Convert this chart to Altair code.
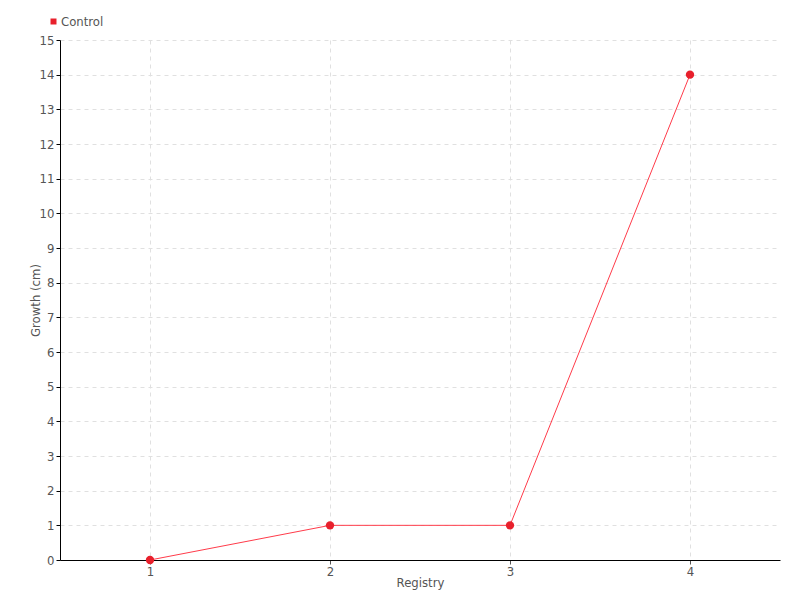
import altair as alt
import pandas as pd

registry = ["1", "2", "3", "4"]
growth = [0, 1, 1, 14]
series = ["Control"] * 4

df = pd.DataFrame({"Registry": registry, "Growth": growth, "Series": series})

FONT = "'DejaVu Sans Condensed', 'Liberation Sans Narrow', 'Roboto', sans-serif"
RED = "#e8202c"

x = alt.X("Registry:O", title="Registry",
          scale=alt.Scale(type="point", padding=0.5),
          axis=alt.Axis(labelAngle=0, grid=True, gridDash=[4, 4], gridColor="#e0e0e0",
                        domainColor="#000", tickColor="#555", tickSize=4,
                        labelColor="#555", labelFontSize=13, labelPadding=1,
                        titleColor="#555", titleFontSize=13, titleFontWeight="normal",
                        titlePadding=-2))
y = alt.Y("Growth:Q", title="Growth (cm)",
          scale=alt.Scale(domain=[0, 15], nice=False),
          axis=alt.Axis(values=list(range(16)), grid=True, gridDash=[4, 4], gridColor="#e0e0e0",
                        domainColor="#000", tickColor="#000", tickSize=4,
                        labelColor="#555", labelFontSize=13, labelPadding=2,
                        titleColor="#555", titleFontSize=13, titleFontWeight="normal",
                        titlePadding=-3))
color = alt.Color("Series:N", scale=alt.Scale(domain=["Control"], range=[RED]),
                  legend=alt.Legend(title=None, orient="none", legendX=-13, legendY=-25,
                                    symbolType="square", symbolSize=36, labelFontSize=13,
                                    labelColor="#555", labelOffset=1, symbolStrokeWidth=0))

line = alt.Chart(df).mark_line(color="#ff3b4a", strokeWidth=1).encode(x=x, y=y)
pts = alt.Chart(df).mark_point(filled=True, size=70, opacity=1).encode(x=x, y=y, color=color)

chart = (line + pts).properties(
    width=720, height=520,
    autosize=alt.AutoSizeParams(type="none"),
    padding={"left": 52, "top": 32, "right": 12, "bottom": 32},
).configure(font=FONT).configure_view(stroke=None)

chart.save("out.html", embed_options={"renderer": "svg", "actions": False})
